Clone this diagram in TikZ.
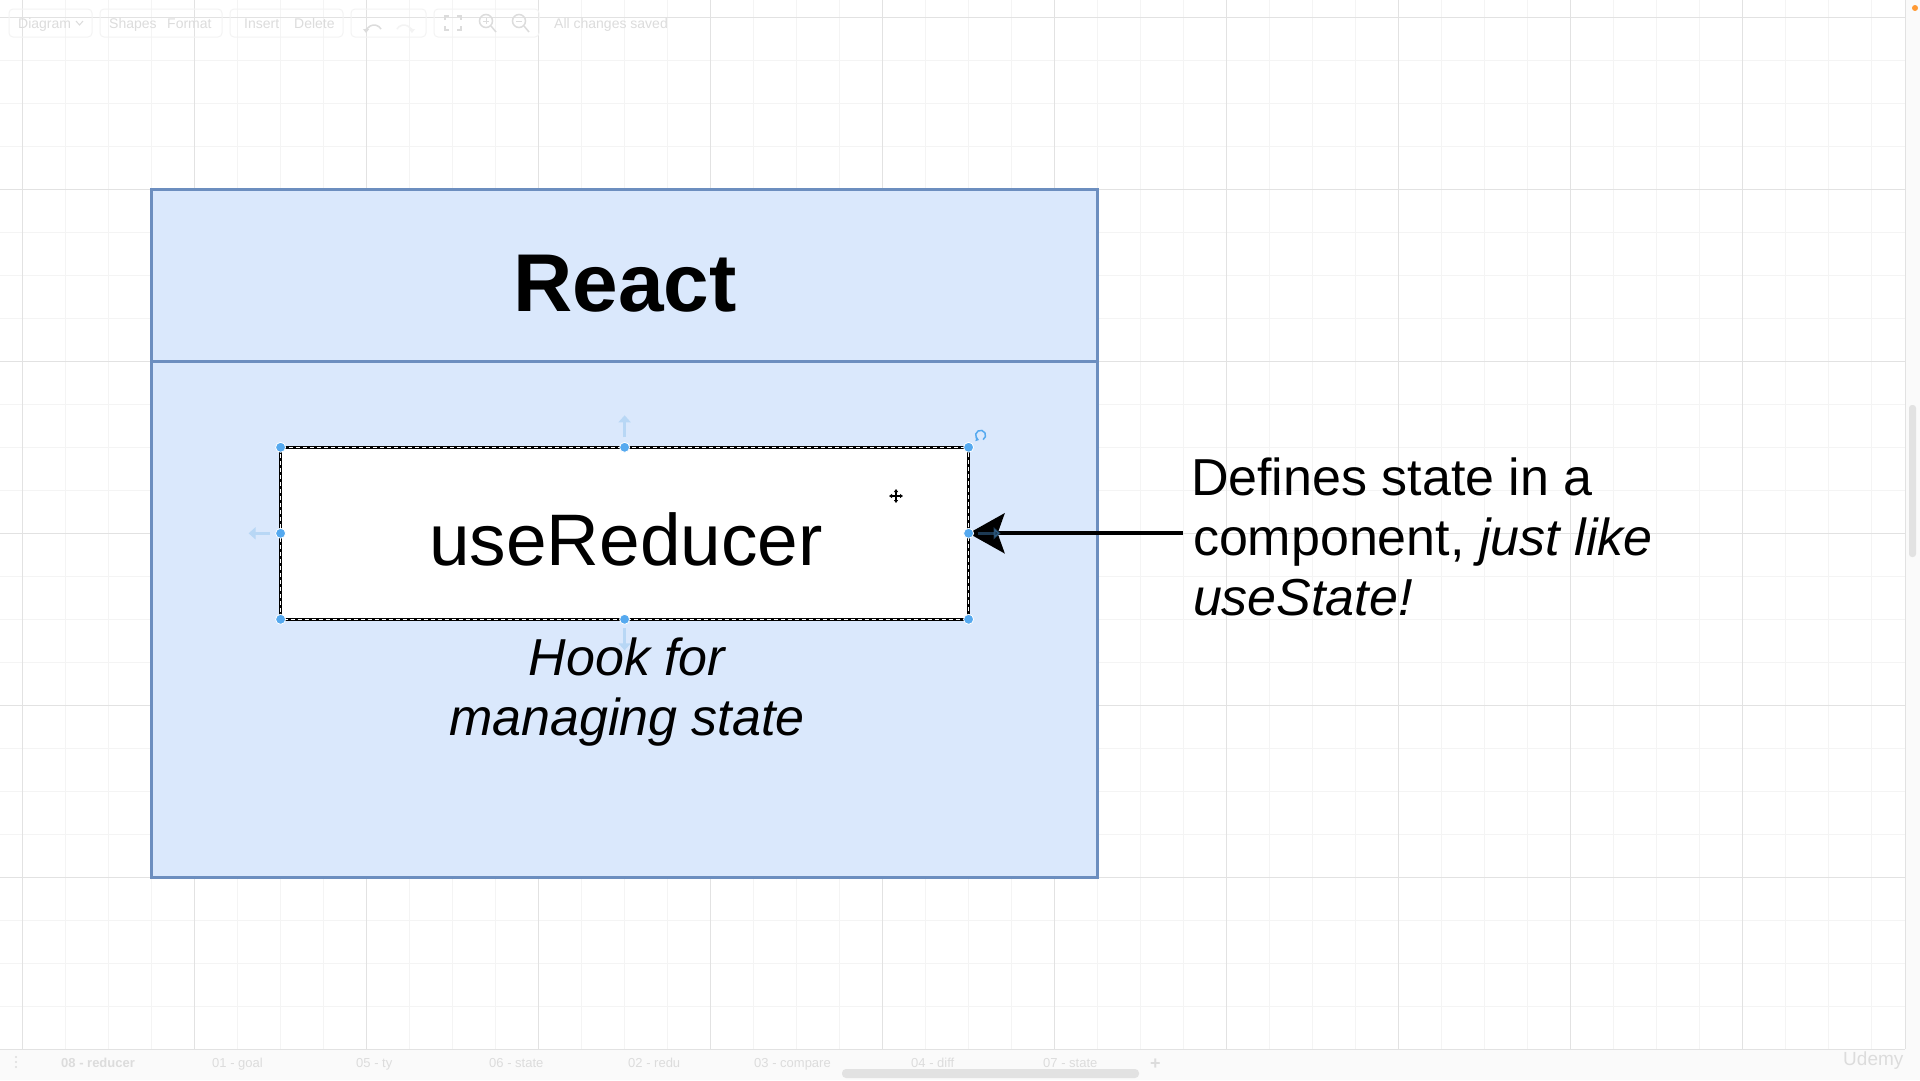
\documentclass[tikz,border=0pt]{standalone}
\usepackage{fontspec}
\setmainfont{Liberation Sans}
\usetikzlibrary{arrows.meta,calc}
\definecolor{rfill}{HTML}{DAE8FC}
\definecolor{rdraw}{HTML}{6C8EBF}
\definecolor{gmajor}{HTML}{E2E2E2}
\definecolor{gminor}{HTML}{F4F4F4}
\definecolor{handleblue}{HTML}{55A9EF}
\definecolor{hoverblue}{HTML}{B8D7F5}
\definecolor{uigray}{HTML}{DCDCDC}
\definecolor{uiline}{HTML}{F3F3F3}
\definecolor{barfill}{HTML}{FAFAFA}
\definecolor{scrollgray}{HTML}{E2E2E2}
\tikzset{
  gridminor/.style={draw=gminor, line width=1pt},
  gridmajor/.style={draw=gmajor, line width=1pt},
  container/.style={draw=rdraw, fill=rfill, line width=3pt, inner sep=0pt, outer sep=0pt, anchor=north west},
  hookbox/.style={draw=black, fill=white, line width=3pt, inner sep=0pt, outer sep=0pt, anchor=north west},
  handledot/.style={circle, fill=handleblue, draw=white, line width=0.8pt, minimum size=10pt, inner sep=0pt},
  hovertip/.style={draw=hoverblue, line width=3pt, -{Triangle[length=7pt,width=12pt]}},
  bigtext/.style={font=\fontsize{52}{60}\selectfont, inner sep=0pt, outer sep=0pt},
  bigitalic/.style={font=\itshape\fontsize{52}{60}\selectfont, inner sep=0pt, outer sep=0pt},
  uitext/.style={text=uigray, font=\fontsize{14}{16}\selectfont, inner sep=0pt, anchor=base west},
  tabtext/.style={text=uigray, font=\fontsize{13}{15}\selectfont, inner sep=0pt, anchor=base west},
  uibtn/.style={draw=uiline, line width=1pt, rounded corners=4pt},
  uiicon/.style={draw=uigray, line width=1.5pt},
}
\begin{document}
\begin{tikzpicture}[x=1pt,y=-1pt]
\useasboundingbox (0,0) rectangle (1920,1080);
\fill[white] (0,0) rectangle (1920,1080);
% grid
\foreach \i in {0,...,44} { \draw[gridminor] ({22.6+43*\i},0) -- ({22.6+43*\i},1080); }
\foreach \j in {0,...,24} { \draw[gridminor] (0,{17.3+43*\j}) -- (1920,{17.3+43*\j}); }
\foreach \i in {0,...,11} { \draw[gridmajor] ({22.6+172*\i},0) -- ({22.6+172*\i},1080); }
\foreach \j in {0,...,6} { \draw[gridmajor] (0,{17.3+172*\j}) -- (1920,{17.3+172*\j}); }

% toolbar (faint UI)
\draw[uibtn] (9,9) rectangle (92,37);
\draw[uibtn] (100,9) rectangle (222,37);
\draw[uibtn] (230,9) rectangle (343,37);
\draw[uibtn] (351,9) rectangle (426,37);
\draw[uibtn] (434,9) rectangle (539,37);
\node[uitext] (tbdiagram) at (18,28) {Diagram};
\draw[uiicon, line width=1pt] (76,21) -- (79.5,25) -- (83,21);
\node[uitext] (tbshapes) at (109,28) {Shapes};
\node[uitext] (tbformat) at (167,28) {Format};
\node[uitext] (tbinsert) at (244,28) {Insert};
\node[uitext] (tbdelete) at (294,28) {Delete};
\draw[uiicon, -{Triangle[length=4pt,width=6pt]}] (381,29) arc[start angle=-30, end angle=-180, radius=8];
\draw[uiicon, draw=uiline, -{Triangle[length=4pt,width=6pt]}] (397,29) arc[start angle=210, end angle=360, radius=8];
\draw[uiicon] (445,20) -- (445,16) -- (449,16) (457,16) -- (461,16) -- (461,20) (461,26) -- (461,30) -- (457,30) (449,30) -- (445,30) -- (445,26);
\draw[uiicon] (486,21) circle[radius=6.5]; \draw[uiicon] (491,26) -- (496,32); \draw[uiicon, line width=1pt] (483,21) -- (489,21) (486,18) -- (486,24);
\draw[uiicon] (519,21) circle[radius=6.5]; \draw[uiicon] (524,26) -- (529,32); \draw[uiicon, line width=1pt] (516,21) -- (522,21);
\node[uitext] (tbsaved) at (554,28) {All changes saved};

% right strip and scrollbar
\fill[barfill] (1905,0) rectangle (1920,1080);
\draw[gmajor] (1905,0) -- (1905,1049);
\fill[scrollgray, rounded corners=3pt] (1909,405) rectangle (1916,557);
\fill[orange!80] (1915,8) circle[radius=3];

% bottom tab bar
\fill[barfill] (0,1050) rectangle (1920,1080);
\draw[gmajor] (0,1049.3) -- (1905,1049.3);
\fill[uigray] (16,1057) circle[radius=1.2] (16,1062) circle[radius=1.2] (16,1067) circle[radius=1.2];
\node[tabtext, font=\bfseries\fontsize{13}{15}\selectfont] (tab1) at (61,1067) {08 - reducer};
\node[tabtext] (tab2) at (212,1067) {01 - goal};
\node[tabtext] (tab3) at (356,1067) {05 - ty};
\node[tabtext] (tab4) at (489,1067) {06 - state};
\node[tabtext] (tab5) at (628,1067) {02 - redu};
\node[tabtext] (tab6) at (754,1067) {03 - compare};
\node[tabtext] (tab7) at (911,1067) {04 - diff};
\node[tabtext] (tab8) at (1043,1067) {07 - state};
\node[tabtext, font=\bfseries\fontsize{18}{20}\selectfont] (tabplus) at (1150,1069) {+};
\fill[scrollgray, rounded corners=4pt] (842,1069) rectangle (1139,1078);
\node[text=uigray, font=\fontsize{19}{21}\selectfont, inner sep=0pt, anchor=base west] (udemy) at (1843,1065) {Udemy};

% React container
\node[container, minimum width=946pt, minimum height=688pt] (react) at (151.6,189.3) {};
\coordinate (divl) at ($(react.north west)+(0,172)$);
\coordinate (divr) at ($(react.north east)+(0,172)$);
\draw[rdraw, line width=3pt] (divl) -- (divr);
\node[font=\bfseries\fontsize{82}{98}\selectfont, inner sep=0pt, anchor=base] (title) at (625,311) {React};

% useReducer box (selected)
\node[hookbox, minimum width=688pt, minimum height=172pt] (reducer) at (280.6,447.3) {};
\draw[white, line width=1pt, dash pattern=on 4pt off 3pt] (reducer.north west) rectangle (reducer.south east);
\node[font=\fontsize{73}{88}\selectfont, inner sep=0pt, anchor=base] (reducertext) at (626,565) {useReducer};

% hint texts
\node[bigitalic, anchor=base] (hook1) at (627,675) {Hook for};
\node[bigitalic, anchor=base] (hook2) at (627,735) {managing state};

\node[bigtext, anchor=base west] (def1) at (1191,495) {Defines state in a};
\node[bigtext, anchor=base west] (def2) at (1193,555) {component, \textit{just like}};
\node[bigitalic, anchor=base west] (def3) at (1193,615) {useState!};

% connector
\coordinate (arrowstart) at (1183,533.3);
\draw[line width=4pt, -{Stealth[length=36pt, width=40pt, inset=7pt]}] (arrowstart) -- (reducer.east);

% hover arrows
\coordinate (hu0) at ($(reducer.north)+(0,-10)$);
\coordinate (hu1) at ($(reducer.north)+(0,-32)$);
\draw[hovertip] (hu0) -- (hu1);
\coordinate (hl0) at ($(reducer.west)+(-11,0)$);
\coordinate (hl1) at ($(reducer.west)+(-32,0)$);
\draw[hovertip] (hl0) -- (hl1);
\coordinate (hd0) at ($(reducer.south)+(0,9)$);
\coordinate (hd1) at ($(reducer.south)+(0,31)$);
\draw[hovertip] (hd0) -- (hd1);
\coordinate (hr0) at ($(reducer.east)+(9,0)$);
\coordinate (hr1) at ($(reducer.east)+(32,0)$);
\draw[hovertip, draw=handleblue, opacity=0.35] (hr0) -- (hr1);

% selection handles
\foreach \a in {north west,north,north east,west,east,south west,south,south east}
  \node[handledot] at (reducer.\a) {};

% rotate handle
\coordinate (rotc) at ($(reducer.north east)+(12,-12)$);
\draw[handleblue, line width=1.5pt, -{Triangle[length=3pt,width=4.5pt]}] ($(rotc)+(60:5)$) arc[start angle=60, end angle=-250, radius=5];

% move cursor
\coordinate (cur) at (896,496);
\draw[white, line width=3.5pt] ($(cur)+(-7,0)$) -- ($(cur)+(7,0)$) ($(cur)+(0,-7)$) -- ($(cur)+(0,7)$);
\draw[black, line width=1.2pt, {Triangle[length=3pt,width=4pt]}-{Triangle[length=3pt,width=4pt]}] ($(cur)+(-7,0)$) -- ($(cur)+(7,0)$);
\draw[black, line width=1.2pt, {Triangle[length=3pt,width=4pt]}-{Triangle[length=3pt,width=4pt]}] ($(cur)+(0,-7)$) -- ($(cur)+(0,7)$);
\end{tikzpicture}
\end{document}
